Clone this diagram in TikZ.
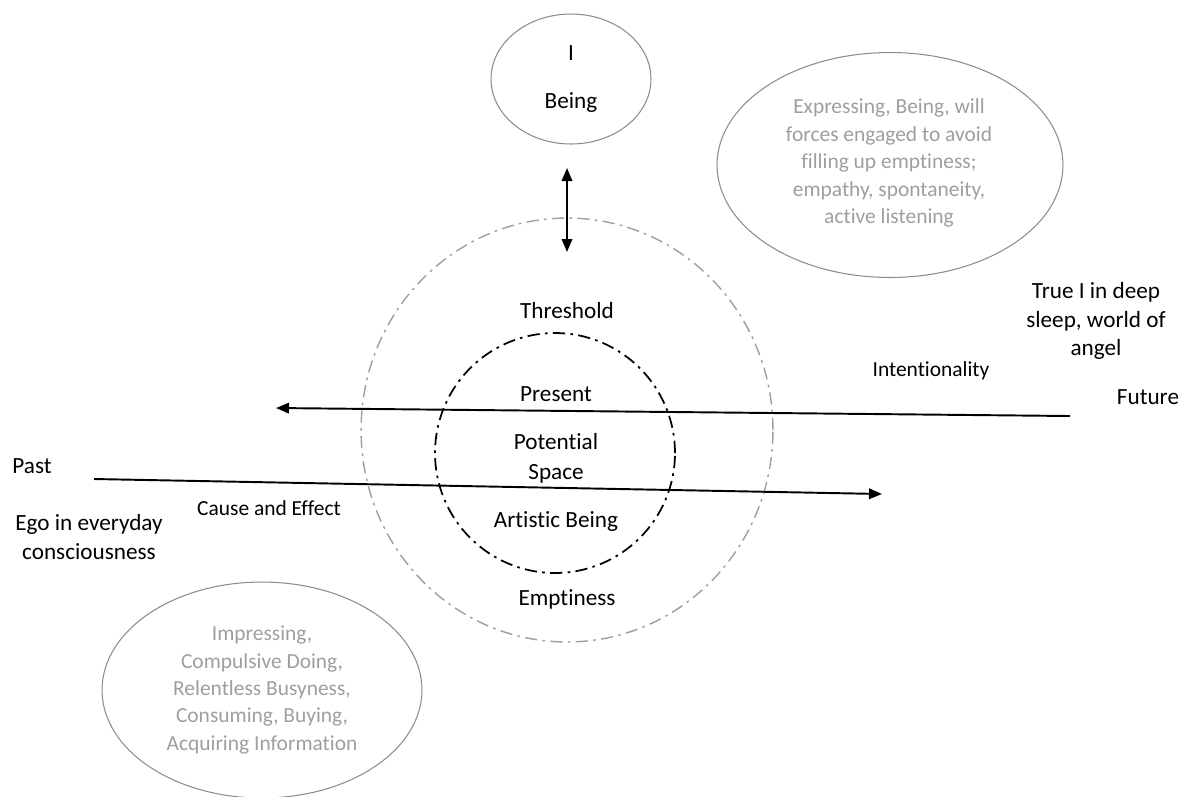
\documentclass[tikz,border=0pt]{standalone}
\usepackage{fontspec}
\setmainfont{Carlito}[Ligatures = NoCommon]
\usetikzlibrary{arrows.meta, shapes.geometric, positioning}
\definecolor{softgray}{gray}{0.62}
\definecolor{rimgray}{gray}{0.55}
\tikzset{> = { Triangle[length = 2.6mm, width = 2.1mm] }}

\begin{document}
\begin{tikzpicture}[x = 0.02cm, y = -0.02cm,
		bubble/.style = { draw = rimgray, ellipse, line width = 0.6pt, inner sep = 0pt },
		ring/.style = { ellipse, inner sep = 0pt, dash pattern = on 7pt off 3pt on 1.5pt off 3pt },
		word/.style = { font = \fontsize{13.2}{17}\selectfont, align = center, inner sep = 0pt },
		small/.style = { font = \fontsize{12.2}{15}\selectfont, align = center, inner sep = 0pt },
		note/.style = { font = \fontsize{12.2}{15.6}\selectfont, text = softgray, align = center, inner sep = 0pt },
		timeline/.style = { ->, line width = 1.1pt }]
		\useasboundingbox (0, 0) rectangle (1189, 796);

		% the three bubbles
		\node [bubble, minimum width = 3.2cm, minimum height = 2.6cm, word, font = \fontsize{13.2}{27.8}\selectfont] (being) at (571, 79) {I\\Being};
		\node [bubble, minimum width = 6.92cm, minimum height = 4.5cm] (express) at (890, 165) {};
		\node [note] (expressTxt) at (889, 163) {Expressing, Being, will\\forces engaged to avoid\\filling up emptiness;\\empathy, spontaneity,\\active listening};
		\node [bubble, minimum width = 6.4cm, minimum height = 4.32cm, note] (impress) at (262, 690) {Impressing,\\Compulsive Doing,\\Relentless Busyness,\\Consuming, Buying,\\Acquiring Information};

		% threshold and potential space
		\node [ring, draw = softgray, line width = 0.8pt, minimum width = 8.24cm, minimum height = 8.48cm] (outer) at (567, 430) {};
		\node [ring, draw = black, line width = 1pt, minimum width = 4.8cm, minimum height = 4.8cm] (inner) at (555, 453) {};

		\node [word] (threshold) at (567, 311) {Threshold};
		\node [word] (present) at (556, 394) {Present};
		\node [word] (space) at (556, 458) {Potential\\Space};
		\node [word] (artistic) at (556, 521) {Artistic Being};
		\node [word] (emptiness) at (567, 599) {Emptiness};

		% link to the I
		\coordinate (linkTop) at (567, 168);
		\coordinate (linkBot) at (567, 252);
		\draw [<->, line width = 1.1pt] (linkTop) -- (linkBot);

		% time lines
		\coordinate (futStart) at (1070, 416);
		\coordinate (futEnd) at (276, 408);
		\coordinate (pastStart) at (94, 479);
		\coordinate (pastEnd) at (882, 494);
		\draw [timeline] (futStart) -- (futEnd);
		\draw [timeline] (pastStart) -- (pastEnd);

		\node [word] (future) at (1148, 397) {Future};
		\node [small] (intent) at (931, 371) {Intentionality};
		\node [word, font = \fontsize{13.2}{16.4}\selectfont] (trueI) at (1096, 321) {True I in deep\\sleep, world of\\angel};

		\node [word] (past) at (32, 466) {Past};
		\node [small] (cause) at (269, 508) {Cause and Effect};
		\node [word] (ego) at (89, 537) {Ego in everyday\\consciousness};
	\end{tikzpicture}
\end{document}
